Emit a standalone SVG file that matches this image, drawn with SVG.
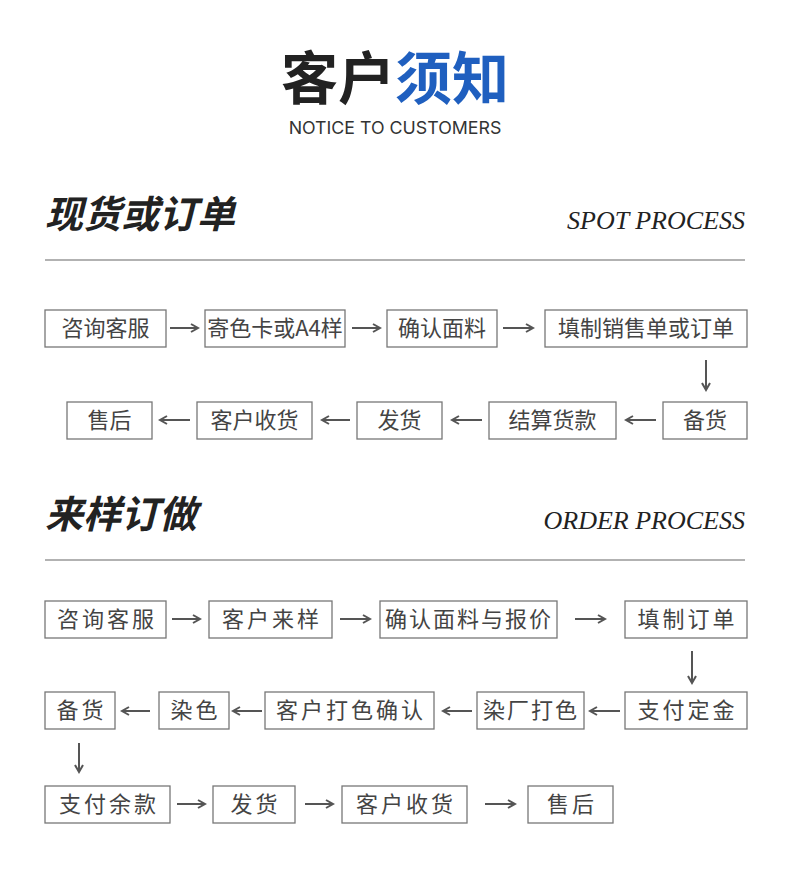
<svg xmlns="http://www.w3.org/2000/svg" width="790" height="872" viewBox="0 0 790 872">
<style>
.b{fill:#fff;stroke:#777;stroke-width:1.3}
.t{font-family:"Noto Sans CJK SC",sans-serif;font-size:22px;fill:#444;text-anchor:middle}
.s{letter-spacing:3px}
.a{stroke:#555;stroke-width:2;fill:none}
.h{font-family:"Noto Sans CJK SC",sans-serif;font-size:38px;font-weight:bold;font-style:italic;fill:#222}
.e{font-family:"Liberation Serif",serif;font-size:26px;font-style:italic;fill:#222;text-anchor:end}
</style>
<defs><marker id="m" markerWidth="10" markerHeight="10" refX="8" refY="5" orient="auto" markerUnits="userSpaceOnUse"><path d="M1,1 L8,5 L1,9" fill="none" stroke="#555" stroke-width="2"/></marker></defs>
<g id="title">
<text x="395" y="99" text-anchor="middle" font-family="Noto Sans CJK SC,sans-serif" font-size="57" font-weight="bold"><tspan fill="#222">客户</tspan><tspan fill="#1f5fbf">须知</tspan></text>
<text x="395" y="134" text-anchor="middle" font-family="Inter,sans-serif" font-size="17.8" fill="#333">NOTICE TO CUSTOMERS</text>
</g>
<g id="sec1">
<text class="h" x="45" y="228">现货或订单</text>
<text class="e" x="745" y="229">SPOT PROCESS</text>
<line x1="45" y1="260" x2="745" y2="260" stroke="#999" stroke-width="1.3"/>
</g>
<g id="sec2">
<text class="h" x="45" y="528">来样订做</text>
<text class="e" x="745" y="529">ORDER PROCESS</text>
<line x1="45" y1="560" x2="745" y2="560" stroke="#999" stroke-width="1.3"/>
</g>
<g id="n1"><rect class="b" x="45" y="310" width="121" height="37"/><text class="t" x="105.5" y="336">咨询客服</text></g>
<g id="n2"><rect class="b" x="205" y="310" width="140" height="37"/><text class="t" x="275" y="336" font-size="19.5">寄色卡或A4样</text></g>
<g id="n3"><rect class="b" x="387" y="310" width="110" height="37"/><text class="t" x="442" y="336">确认面料</text></g>
<g id="n4"><rect class="b" x="545" y="310" width="202" height="37"/><text class="t" x="646" y="336">填制销售单或订单</text></g>
<g id="n5"><rect class="b" x="67" y="402" width="85" height="37"/><text class="t" x="109.5" y="428">售后</text></g>
<g id="n6"><rect class="b" x="197" y="402" width="115" height="37"/><text class="t" x="254.5" y="428">客户收货</text></g>
<g id="n7"><rect class="b" x="357" y="402" width="85" height="37"/><text class="t" x="399.5" y="428">发货</text></g>
<g id="n8"><rect class="b" x="489" y="402" width="127" height="37"/><text class="t" x="552.5" y="428">结算货款</text></g>
<g id="n9"><rect class="b" x="663" y="402" width="84" height="37"/><text class="t" x="705" y="428">备货</text></g>
<g id="m1"><rect class="b" x="45" y="601" width="121" height="37"/><text class="t s" x="107" y="627">咨询客服</text></g>
<g id="m2"><rect class="b" x="209" y="601" width="123" height="37"/><text class="t s" x="272" y="627">客户来样</text></g>
<g id="m3"><rect class="b" x="380" y="601" width="177" height="37"/><text class="t" x="469" y="627" font-size="20" letter-spacing="2">确认面料与报价</text></g>
<g id="m4"><rect class="b" x="625" y="601" width="122" height="37"/><text class="t s" x="687.5" y="627">填制订单</text></g>
<g id="m5"><rect class="b" x="45" y="692" width="70" height="37"/><text class="t s" x="81.5" y="718">备货</text></g>
<g id="m6"><rect class="b" x="159" y="692" width="70" height="37"/><text class="t s" x="195.5" y="718">染色</text></g>
<g id="m7"><rect class="b" x="265" y="692" width="169" height="37"/><text class="t s" x="351" y="718">客户打色确认</text></g>
<g id="m8"><rect class="b" x="477" y="692" width="107" height="37"/><text class="t" x="531" y="718" letter-spacing="2">染厂打色</text></g>
<g id="m9"><rect class="b" x="625" y="692" width="122" height="37"/><text class="t s" x="687.5" y="718">支付定金</text></g>
<g id="m10"><rect class="b" x="45" y="786" width="125" height="37"/><text class="t s" x="109" y="812">支付余款</text></g>
<g id="m11"><rect class="b" x="213" y="786" width="82" height="37"/><text class="t s" x="255.5" y="812">发货</text></g>
<g id="m12"><rect class="b" x="342" y="786" width="125" height="37"/><text class="t s" x="406" y="812">客户收货</text></g>
<g id="m13"><rect class="b" x="528" y="786" width="85" height="37"/><text class="t s" x="572" y="812">售后</text></g>
<g id="connectors" marker-end="url(#m)">
<line class="a" x1="170" y1="328" x2="198" y2="328"/>
<line class="a" x1="352" y1="328" x2="380" y2="328"/>
<line class="a" x1="503" y1="328" x2="533" y2="328"/>
<line class="a" x1="706" y1="360" x2="706" y2="390"/>
<line class="a" x1="656" y1="420" x2="626" y2="420"/>
<line class="a" x1="482" y1="420" x2="452" y2="420"/>
<line class="a" x1="350" y1="420" x2="322" y2="420"/>
<line class="a" x1="190" y1="420" x2="160" y2="420"/>
<line class="a" x1="172" y1="619" x2="200" y2="619"/>
<line class="a" x1="340" y1="619" x2="370" y2="619"/>
<line class="a" x1="575" y1="619" x2="605" y2="619"/>
<line class="a" x1="692" y1="651" x2="692" y2="683"/>
<line class="a" x1="620" y1="711" x2="590" y2="711"/>
<line class="a" x1="472" y1="711" x2="443" y2="711"/>
<line class="a" x1="262" y1="711" x2="233" y2="711"/>
<line class="a" x1="150" y1="711" x2="122" y2="711"/>
<line class="a" x1="79" y1="743" x2="79" y2="772"/>
<line class="a" x1="177" y1="804" x2="205" y2="804"/>
<line class="a" x1="305" y1="804" x2="333" y2="804"/>
<line class="a" x1="485" y1="804" x2="515" y2="804"/>
</g>
</svg>
